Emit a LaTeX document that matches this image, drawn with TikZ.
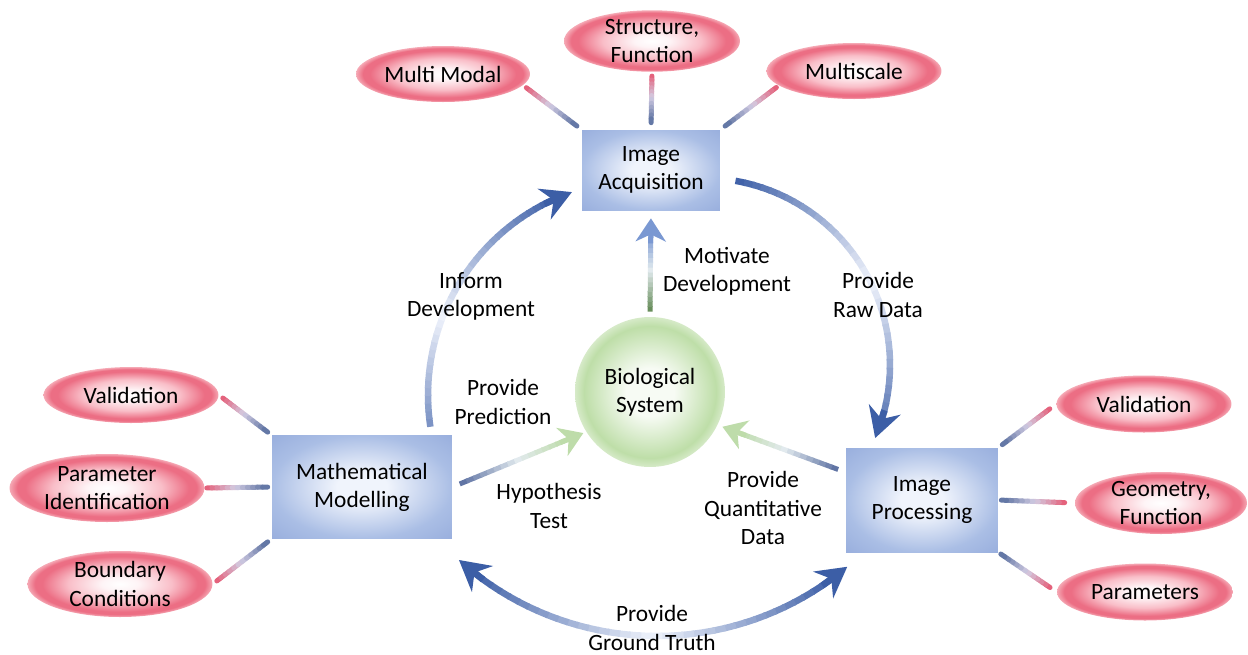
\documentclass[tikz,border=0pt]{standalone}
\usepackage{fontspec}
\setmainfont{Carlito}
\usetikzlibrary{arrows.meta,calc,shapes.geometric}

\definecolor{ovalred}{RGB}{236,110,132}
\definecolor{ovalmid}{RGB}{249,190,200}
\definecolor{ovalcore}{RGB}{254,244,246}
\definecolor{ovalrim}{RGB}{245,168,180}
\definecolor{boxblue}{RGB}{170,190,229}
\definecolor{boxedge}{RGB}{152,174,221}
\definecolor{boxcore}{RGB}{240,244,252}
\definecolor{biogreen}{RGB}{190,222,168}
\definecolor{biorim}{RGB}{214,234,200}
\definecolor{biocore}{RGB}{247,251,244}
\definecolor{arcdark}{RGB}{60,94,166}
\definecolor{arclight}{RGB}{238,242,251}
\definecolor{stickred}{RGB}{228,98,124}
\definecolor{stickmid}{RGB}{210,204,226}
\definecolor{stickblue}{RGB}{100,120,166}
\definecolor{tailgreen}{RGB}{104,142,92}
\definecolor{feedblue}{RGB}{96,116,164}
\definecolor{feedmid}{RGB}{226,234,238}
\definecolor{tipgreen}{RGB}{190,220,170}
\definecolor{tipblue}{RGB}{122,152,210}

\pgfdeclareradialshading{ovalglow}{\pgfpoint{0bp}{0bp}}{color(0bp)=(white); color(5bp)=(ovalcore); color(14bp)=(ovalmid); color(21bp)=(ovalred); color(23bp)=(ovalred); color(25bp)=(ovalrim); color(50bp)=(ovalrim)}
\pgfdeclareradialshading{boxglow}{\pgfpoint{0bp}{0bp}}{color(0bp)=(boxcore); color(7bp)=(boxcore); color(25bp)=(boxblue); color(36bp)=(boxedge); color(50bp)=(boxedge)}
\pgfdeclareradialshading{bioglow}{\pgfpoint{0bp}{0bp}}{color(0bp)=(biocore); color(8bp)=(biocore); color(22bp)=(biogreen); color(25bp)=(biorim); color(50bp)=(biorim)}

\newcommand{\lbl}{\fontsize{13.3}{16}\selectfont}

% short red-to-blue link between an oval and its box
\newcommand{\stick}[4]{%
  \path ($(#1)!#3!(#2)$) coordinate (st0) ($(#2)!#4!(#1)$) coordinate (st1);
  \foreach \seg in {1,...,12}{%
    \pgfmathsetmacro{\ta}{(\seg-1)/12}%
    \pgfmathsetmacro{\tb}{\seg/12}%
    \pgfmathtruncatemacro{\mixpct}{abs(\seg-6.5)/5.5*100}%
    \ifnum\seg<7 \colorlet{segcol}{stickred!\mixpct!stickmid}\else\colorlet{segcol}{stickblue!\mixpct!stickmid}\fi
    \draw[stickline, segcol] ($(st0)!\ta!(st1)$) -- ($(st0)!\tb!(st1)$);
  }}

% faded arc around a hub: hub, radius, from, to, lightest point
\newcommand{\flowarc}[5]{%
  \foreach \seg in {1,...,36}{%
    \pgfmathsetmacro{\angA}{#3+(#4-#3)*(\seg-1)/36}%
    \pgfmathsetmacro{\angB}{#3+(#4-#3)*\seg/36+(#4-#3)/200}%
    \pgfmathtruncatemacro{\mixpct}{100*abs((\seg-0.5)/36-#5)/max(#5,1-#5)}%
    \draw[flowline, arcdark!\mixpct!arclight] ($(#1)+(\angA:#2)$) arc[start angle=\angA, end angle=\angB, radius=#2];
  }}

% straight faded arrow: from, to, tail colour, middle colour, head colour
\newcommand{\feedline}[5]{%
  \path ($(#2)!0.3cm!(#1)$) coordinate (fd1);
  \foreach \seg in {1,...,16}{%
    \pgfmathsetmacro{\ta}{(\seg-1)/16}%
    \pgfmathsetmacro{\tb}{\seg/16+0.01}%
    \ifnum\seg<10
      \pgfmathtruncatemacro{\mixpct}{100*(9-\seg)/8}\colorlet{segcol}{#3!\mixpct!#4}%
    \else
      \pgfmathtruncatemacro{\mixpct}{100*(\seg-9)/7}\colorlet{segcol}{#5!\mixpct!#4}%
    \fi
    \draw[feedline, segcol] ($(#1)!\ta!(fd1)$) -- ($(#1)!\tb!(fd1)$);
  }%
  \draw[feedtip, #5] ($(#2)!0.5cm!(#1)$) -- (#2);}

\tikzset{
  oval/.style={ellipse, shade, shading=ovalglow, inner sep=0pt, align=center},
  stage/.style={rectangle, shade, shading=boxglow, inner sep=0pt, align=center},
  hubnode/.style={circle, shade, shading=bioglow, inner sep=0pt, align=center, minimum size=3cm},
  note/.style={align=center, inner sep=0pt},
  stickline/.style={line width=0.1cm, line cap=round},
  flowline/.style={line width=0.13cm},
  flowtip/.style={line width=0.13cm, arcdark, -{Stealth[length=0.6cm, width=0.66cm, inset=0.2cm]}},
  feedline/.style={line width=0.1cm},
  feedtip/.style={line width=0.1cm, -{Stealth[length=0.46cm, width=0.6cm, inset=0.14cm]}},
}

\begin{document}
\begin{tikzpicture}[x=0.02cm, y=-0.02cm, font=\lbl]
\useasboundingbox (0,0) rectangle (1248,654);

% boxes and the centre
\node[stage, minimum width=2.76cm, minimum height=1.6cm] (acq) at (651,170) {Image\\Acquisition};
\node[stage, minimum width=3.6cm, minimum height=2.06cm] (model) at (362,487) {Mathematical\\Modelling};
\node[stage, minimum width=3.04cm, minimum height=2.08cm] (proc) at (922,500) {Image\\Processing};
\node[hubnode] (bio) at (650,392) {Biological\\System};

% ovals
\node[oval, minimum width=3.48cm, minimum height=1.12cm] (multimodal) at (443,74) {Multi Modal};
\node[oval, minimum width=3.52cm, minimum height=1.2cm] (structure) at (652,41) {Structure,\\Function};
\node[oval, minimum width=3.5cm, minimum height=1.12cm] (multiscale) at (854,71) {Multiscale};
\node[oval, minimum width=3.5cm, minimum height=1.12cm] (mvalid) at (131,395) {Validation};
\node[oval, minimum width=3.9cm, minimum height=1.36cm] (paramid) at (107,488) {Parameter\\Identification};
\node[oval, minimum width=3.7cm, minimum height=1.32cm] (boundary) at (120,584) {Boundary\\Conditions};
\node[oval, minimum width=3.5cm, minimum height=1.14cm] (pvalid) at (1144,404) {Validation};
\node[oval, minimum width=3.44cm, minimum height=1.24cm] (geometry) at (1161,503) {Geometry,\\Function};
\node[oval, minimum width=3.52cm, minimum height=1.14cm] (params) at (1145,592) {Parameters};

% links
\stick{multimodal.-8}{acq.north west}{0.08cm}{0.12cm}
\stick{structure.south}{acq.north}{0.08cm}{0.14cm}
\stick{multiscale.191}{acq.north east}{0.06cm}{0.12cm}
\stick{mvalid.east}{model.north west}{0.1cm}{0.1cm}
\stick{paramid.east}{model.west}{0.04cm}{0.08cm}
\stick{boundary.east}{model.south west}{0.1cm}{0.1cm}
\stick{pvalid.west}{proc.north east}{0.16cm}{0.1cm}
\stick{geometry.west}{proc.east}{0.2cm}{0.06cm}
\stick{params.west}{proc.south east}{0.16cm}{0.06cm}

% the cycle
\coordinate (rawhub) at (703,365);
\coordinate (informhub) at (643,395);
\coordinate (truthhub) at (657,340);
\flowarc{rawhub}{187}{-80}{17}{0.55}
\draw[flowtip] ($(rawhub)+(14:187)$) -- ($(rawhub)+(23:187)$);
\flowarc{informhub}{215}{171.5}{245.7}{0.4}
\draw[flowtip] ($(informhub)+(242.7:215)$) -- ($(informhub)+(250.7:215)$);
\flowarc{truthhub}{296}{54}{128}{0.5}
\draw[flowtip] ($(truthhub)+(126:296)$) -- ($(truthhub)+(132:296)$);
\draw[flowtip] ($(truthhub)+(56:296)$) -- ($(truthhub)+(50:296)$);

% arrows at the centre
\path ($(bio.north)!0.1cm!(acq.south)$) coordinate (mot0) ($(acq.south)!0.16cm!(bio.north)$) coordinate (mot1);
\feedline{mot0}{mot1}{tailgreen}{feedmid}{tipblue}
\path ($(model.east)!0.16cm!(bio.212)$) coordinate (hyp0) ($(bio.212)!0.06cm!(model.east)$) coordinate (hyp1);
\feedline{hyp0}{hyp1}{feedblue}{feedmid}{tipgreen}
\path ($(proc.160)!0.16cm!(bio.-26)$) coordinate (qnt0) ($(bio.-26)!0.1cm!(proc.160)$) coordinate (qnt1);
\feedline{qnt0}{qnt1}{feedblue}{feedmid}{tipgreen}

% labels
\node[note] (inform) at (471,296) {Inform\\Development};
\node[note] (motivate) at (727,271) {Motivate\\Development};
\node[note] (rawdata) at (878,295) {Provide\\Raw Data};
\node[note] (predict) at (503,402) {Provide\\Prediction};
\node[note] (hypo) at (549,506) {Hypothesis\\Test};
\node[note] (quant) at (763,508) {Provide\\Quantitative\\Data};
\node[note] (truth) at (652,628) {Provide\\Ground Truth};
\end{tikzpicture}
\end{document}
